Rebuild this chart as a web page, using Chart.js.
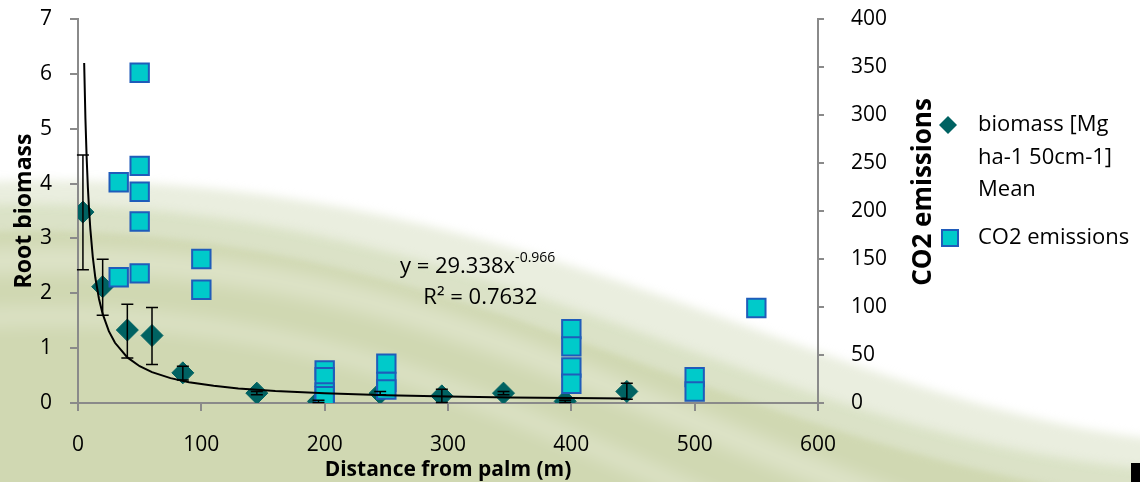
<!DOCTYPE html>
<html>
<head>
<meta charset="utf-8">
<script src="https://cdn.jsdelivr.net/npm/chart.js@4.4.1/dist/chart.umd.min.js"></script>
<style>
    html, body { margin: 0; padding: 0; background: #fff; }
    canvas { display: block; }
</style>
</head>
<body>
<canvas id="myScatter" width="1140" height="482"></canvas>
<script>
// biomass means (primary axis) with error bars
const biomassX = [4, 20, 40, 60, 85, 145, 195, 245, 295, 345, 395, 445];
const biomassY = [3.48, 2.12, 1.33, 1.23, 0.55, 0.18, 0.03, 0.18, 0.13, 0.18, 0.03, 0.21];
const biomassHigh = [4.52, 2.62, 1.80, 1.74, 0.67, 0.21, 0.05, 0.21, 0.25, 0.21, 0.05, 0.36];
const biomassLow = [2.43, 1.60, 0.82, 0.70, 0.42, 0.15, 0.01, 0.15, 0.01, 0.15, 0.01, 0.07];

// CO2 emissions (secondary axis)
const co2X = [33, 33, 50, 50, 50, 50, 50, 100, 100, 200, 200, 200, 200, 250, 250, 250, 400, 400, 400, 400, 500, 500, 550];
const co2Y = [230, 131, 344, 247, 220, 189, 135, 150, 118, 34, 27, 11, 7, 41, 22, 14, 77, 59, 37, 20, 27, 12, 99];

// power trendline shown on the chart: y = 29.338 x^-0.966
const trendA = 29.338;
const trendB = -0.966;
const trendX = [5, 6, 7, 8, 9, 10, 12, 14, 17, 20, 25, 30, 40, 50, 60, 75, 90, 110, 130, 160, 200, 250, 300, 350, 400, 445];

const xTicks = [0, 100, 200, 300, 400, 500, 600];
const yTicks = [0, 1, 2, 3, 4, 5, 6, 7];
const y2Ticks = [0, 50, 100, 150, 200, 250, 300, 350, 400];

const legendLines = ['biomass [Mg', 'ha-1 50cm-1]', 'Mean'];

const fontFam = "'Open Sans', sans-serif";
const diamondColor = '#006262';
const squareFill = '#00CACA';
const squareBorder = '#1F5CBA';
const axisGray = '#8a8a8a';

Chart.defaults.font.family = fontFam;
Chart.defaults.color = '#000';

function band(ctx, w, h, y0, c1x, c1y, c2x, c2y, ex, ey, color) {
    ctx.beginPath();
    ctx.moveTo(-20, y0);
    ctx.bezierCurveTo(c1x, c1y, c2x, c2y, ex, ey);
    ctx.lineTo(w + 40, h + 40);
    ctx.lineTo(-20, h + 40);
    ctx.closePath();
    ctx.fillStyle = color;
    ctx.fill();
}

const bgPlugin = {
    id: 'bg',
    beforeDraw(chart) {
        const ctx = chart.ctx;
        const w = chart.width, h = chart.height;
        ctx.save();
        ctx.fillStyle = '#ffffff';
        ctx.fillRect(0, 0, w, h);
        ctx.filter = 'blur(5px)';
        band(ctx, w, h, 182, 520, 160, 800, 400, 1160, 440, 'rgba(214,222,192,0.5)');
        band(ctx, w, h, 205, 480, 190, 760, 440, 1160, 470, 'rgba(206,216,178,0.55)');
        ctx.filter = 'blur(3px)';
        band(ctx, w, h, 232, 440, 215, 700, 440, 1140, 500, 'rgba(208,216,178,1)');
        ctx.filter = 'blur(9px)';
        ctx.strokeStyle = 'rgba(255,255,255,0.3)';
        ctx.lineWidth = 24;
        ctx.beginPath();
        ctx.moveTo(-20, 262);
        ctx.bezierCurveTo(380, 240, 600, 400, 920, 510);
        ctx.stroke();
        ctx.lineWidth = 16;
        ctx.beginPath();
        ctx.moveTo(-20, 318);
        ctx.bezierCurveTo(320, 300, 520, 420, 760, 520);
        ctx.stroke();
        ctx.filter = 'none';
        ctx.fillStyle = '#000';
        ctx.fillRect(1131, 463, 9, 19);
        ctx.restore();
    }
};

const errorBars = {
    id: 'errorBars',
    afterDatasetsDraw(chart) {
        const ctx = chart.ctx;
        const xs = chart.scales.x, ys = chart.scales.y;
        ctx.save();
        ctx.strokeStyle = '#000';
        ctx.lineWidth = 1.5;
        for (let i = 0; i < biomassX.length; i++) {
            const px = xs.getPixelForValue(biomassX[i]);
            const top = ys.getPixelForValue(biomassHigh[i]);
            const bot = ys.getPixelForValue(biomassLow[i]);
            ctx.beginPath();
            ctx.moveTo(px, top); ctx.lineTo(px, bot);
            ctx.moveTo(px - 6, top); ctx.lineTo(px + 6, top);
            ctx.moveTo(px - 6, bot); ctx.lineTo(px + 6, bot);
            ctx.stroke();
        }
        ctx.restore();
    }
};

const extras = {
    id: 'extras',
    afterDraw(chart) {
        const ctx = chart.ctx;
        const xs = chart.scales.x, ys = chart.scales.y;
        ctx.save();
        ctx.fillStyle = '#000';
        // trendline equation
        ctx.textBaseline = 'middle';
        ctx.textAlign = 'left';
        ctx.font = '22px ' + fontFam;
        const ex = xs.getPixelForValue(261);
        const ey = ys.getPixelForValue(2.49);
        const mainTxt = 'y = ' + trendA + 'x';
        ctx.fillText(mainTxt, ex, ey);
        const mw = ctx.measureText(mainTxt).width;
        ctx.font = '14px ' + fontFam;
        ctx.fillText(String(trendB), ex + mw, ey - 8);
        ctx.font = '22px ' + fontFam;
        ctx.fillText('R\u00B2 = 0.7632', xs.getPixelForValue(280), ys.getPixelForValue(1.92));

        // right axis title, reading bottom to top
        ctx.save();
        ctx.translate(924, 192);
        ctx.rotate(-Math.PI / 2);
        ctx.textAlign = 'center';
        ctx.font = 'bold 26px ' + fontFam;
        ctx.fillText('CO2 emissions', 0, 0);
        ctx.restore();

        // legend
        ctx.font = '22px ' + fontFam;
        ctx.fillStyle = diamondColor;
        ctx.beginPath();
        ctx.moveTo(948, 116); ctx.lineTo(957, 125); ctx.lineTo(948, 134); ctx.lineTo(939, 125);
        ctx.closePath();
        ctx.fill();
        ctx.fillStyle = '#000';
        legendLines.forEach((t, i) => ctx.fillText(t, 978, 125 + i * 32.5));
        ctx.fillStyle = squareFill;
        ctx.fillRect(942, 230, 16, 16);
        ctx.strokeStyle = squareBorder;
        ctx.lineWidth = 2;
        ctx.strokeRect(942, 230, 16, 16);
        ctx.fillStyle = '#000';
        ctx.fillText('CO2 emissions', 978, 238);
        ctx.restore();
    }
};

const trendData = trendX.map(x => ({ x: x, y: trendA * Math.pow(x, trendB) }));

// keep tick padding from pushing the plot area down
function fixVertical(width) {
    return (s) => { s.width = width; s.paddingTop = 10; s.paddingBottom = 10; };
}

const ctx = document.getElementById('myScatter').getContext('2d');
const myScatter = new Chart(ctx, {
    type: 'scatter',
    data: {
        datasets: [{
            label: 'trend',
            data: trendData,
            showLine: true,
            borderColor: '#000',
            borderWidth: 2,
            pointRadius: 0,
            tension: 0,
            yAxisID: 'y',
            order: 0
        }, {
            label: 'CO2 emissions',
            data: co2X.map((x, i) => ({ x: x, y: co2Y[i] })),
            pointStyle: 'rect',
            pointRadius: 13,
            backgroundColor: squareFill,
            borderColor: squareBorder,
            borderWidth: 2,
            yAxisID: 'y2',
            order: 1
        }, {
            label: 'biomass [Mg ha-1 50cm-1] Mean',
            data: biomassX.map((x, i) => ({ x: x, y: biomassY[i] })),
            pointStyle: 'rectRot',
            pointRadius: 11,
            backgroundColor: diamondColor,
            borderColor: diamondColor,
            borderWidth: 1,
            yAxisID: 'y',
            order: 2
        }]
    },
    options: {
        responsive: false,
        animation: false,
        layout: { autoPadding: false, padding: { top: 19, left: 0, right: 0, bottom: 0 } },
        plugins: {
            legend: { display: false },
            tooltip: { enabled: false }
        },
        scales: {
            x: {
                type: 'linear',
                position: 'bottom',
                min: 0,
                max: 600,
                afterBuildTicks: (s) => { s.ticks = xTicks.map(v => ({ value: v })); },
                afterFit: (s) => { s.height = 79; },
                grid: { drawOnChartArea: false, tickLength: 8, color: axisGray, lineWidth: 2 },
                border: { color: axisGray, width: 2 },
                ticks: { font: { size: 21 }, padding: 21, maxRotation: 0 },
                title: { display: true, text: 'Distance from palm (m)', font: { size: 21, weight: 'bold' }, padding: { top: 0, bottom: -1 } }
            },
            y: {
                position: 'left',
                min: 0,
                max: 7,
                afterBuildTicks: (s) => { s.ticks = yTicks.map(v => ({ value: v })); },
                afterFit: fixVertical(78),
                grid: { drawOnChartArea: false, tickLength: 8, color: axisGray, lineWidth: 2 },
                border: { color: axisGray, width: 2 },
                ticks: { font: { size: 21 }, padding: 18 },
                title: { display: true, text: 'Root biomass', font: { size: 23, weight: 'bold' }, padding: { top: 11, bottom: 0 } }
            },
            y2: {
                position: 'right',
                min: 0,
                max: 400,
                afterBuildTicks: (s) => { s.ticks = y2Ticks.map(v => ({ value: v })); },
                afterFit: fixVertical(322),
                grid: { drawOnChartArea: false, tickLength: 6, color: axisGray, lineWidth: 2 },
                border: { color: axisGray, width: 2 },
                ticks: { font: { size: 21 }, padding: 27 }
            }
        }
    },
    plugins: [bgPlugin, errorBars, extras]
});
</script>
</body>
</html>
